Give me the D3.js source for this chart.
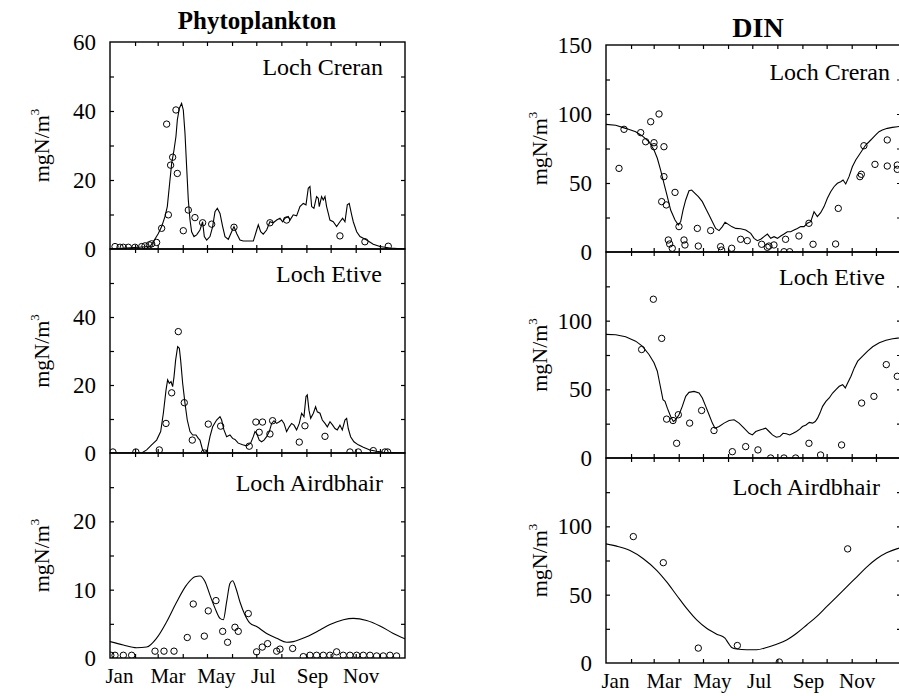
<!DOCTYPE html>
<html><head><meta charset="utf-8">
<script src="https://cdn.jsdelivr.net/npm/d3@7"></script>
<style>
body{margin:0;background:#fff}
svg{display:block}
text{font-family:"Liberation Serif","Times New Roman",serif;fill:#000}
</style>
</head><body>
<svg id="c" width="899" height="696"></svg>
<script>
// ---------- tick labels ----------
const monthLabels = ["Jan","Mar","May","Jul","Sep","Nov"];
const monthLabelDays = [11, 71, 131, 189, 250, 310];
const monthTickDays = [31,59,90,120,151,181,212,243,273,304,334];
const columnTitles = ["Phytoplankton","DIN"];
const lochNames = ["Loch Creran","Loch Etive","Loch Airdbhair"];
const phytoTickLabels = [[0,20,40,60],[0,20,40],[0,10,20]];
const dinTickLabels = [[0,50,100,150],[0,50,100],[0,50,100]];

// ---------- Phytoplankton (mgN/m3): [day of year, value] ----------
const phytoCreranModel = [[0,0],[49.5,0.7],[53.6,2.1],[59.8,4.5],[63.9,6.5],[68,9.4],[70.9,12.3],[74.2,20],[76.3,24.8],[79.2,28.7],[81.6,32.6],[83.3,37.4],[85.8,40.8],[88.6,42.2],[90.7,40.3],[92.8,33.5],[94.8,23.9],[96.9,14.2],[99,8.4],[101,5],[103.9,3.6],[107.2,4.1],[111.3,5.5],[114.6,7.9],[116.7,3.6],[119.6,2.6],[123.7,3.6],[127,6.5],[129.9,10.8],[132.8,11.8],[136.1,10.3],[139.4,6.5],[142.3,3.6],[146.4,2.8],[150.5,5],[153.4,6.5],[156.7,4.5],[160.8,2.6],[164.9,2.3],[177.3,2.3],[181.5,5.5],[183.5,7],[186.4,5],[189.6,4.3],[193.8,5.5],[197.9,7.9],[202,7.6],[206.2,8.4],[210.3,8.9],[213.6,7.9],[216.5,8.9],[220.6,9.4],[222.7,8.4],[226.7,9.9],[230.9,9.6],[235,12.3],[239.1,13.2],[242.5,12.8],[245.3,17.6],[247.4,18.1],[249.5,12.3],[252.3,11.8],[255.6,15.2],[257.7,14.7],[258.9,12.3],[261.8,15.2],[263.9,14.2],[266,15.2],[268,12.3],[270.1,10.3],[272.1,8.4],[276.2,7.9],[280.4,6.5],[284.5,7.9],[287.8,8.9],[290.7,7.9],[293.6,12.8],[296,13.2],[299,9.9],[301,7.9],[305.2,5],[309.3,3.6],[317.5,2.6],[325.7,1.4],[334,0.7],[346.4,0.3],[365,0]];
const phytoCreranObs = [[6.2,0.7],[12.4,0.5],[16.5,0.5],[22.7,0.5],[30.9,0.5],[39.2,0.7],[43.3,0.9],[48.6,1.2],[51.5,1.5],[57.7,1.9],[63.9,6],[72.2,9.9],[75,24.3],[77.5,26.6],[70.1,36.2],[81.6,40.3],[83.3,21.9],[90.7,5.3],[96.9,11.3],[105.1,9.1],[114.6,7.6],[125.8,7.2],[153.4,6.3],[197.9,7.6],[218.5,8.4],[284.5,3.8],[315.4,2.1],[344.3,0.8]];

const phytoEtiveModel = [[0,0],[39.2,0],[45.4,0.9],[51.5,2.4],[57.7,3.8],[62.7,6.3],[66,11.7],[69.3,18.5],[71.3,21.5],[73.4,20.5],[75.5,21],[77.5,19.5],[79.2,22.4],[81.2,27.3],[83.7,31.3],[85.8,30.8],[87.4,27.3],[89.9,20.5],[92.8,14.6],[95.6,9.7],[99,6.3],[102.3,5.3],[106.4,5.3],[109.3,4.3],[111.3,3.8],[114.6,0.9],[117.5,0],[120.4,0.9],[123.7,4.8],[127,7.7],[131.9,9.7],[136.1,10.7],[138.1,9.7],[141,6.8],[144.3,4.8],[148.4,5.3],[151.7,4.3],[154.6,4],[158.7,2.9],[164.1,2.4],[169,2.1],[174,2.9],[177.3,4.8],[179.4,6.3],[181.4,5.8],[184.7,3.8],[187.6,3.3],[190.5,3.8],[193.8,4.8],[197.1,6.3],[200,8.7],[202.9,9.5],[206.2,8.7],[209.5,9.2],[212.4,9.7],[215.3,8.7],[218.5,6.3],[221.8,7.7],[224.7,8.7],[227.6,8.2],[230.9,6.8],[234.2,8.7],[237.1,11.7],[240,10.7],[242.5,16.6],[244.1,17.1],[246.2,12.6],[248.3,10.2],[251.6,11.7],[254.4,13.6],[256.5,12.1],[259.8,11.7],[262.7,9.7],[266,8.7],[268.9,7.7],[272.2,9.2],[275.5,8.2],[278.4,7.2],[281.2,6.8],[284.5,8.2],[287.4,6.8],[290.7,9.7],[292.8,10.2],[294.8,7.2],[297.7,4.8],[301.8,3.3],[307.2,2.4],[313.4,1.7],[321.6,0.9],[329.9,0.5],[338.1,0.2],[365,0]];
const phytoEtiveObs = [[3.6,0.3],[32,0.3],[61,0.9],[69.3,8.7],[76.3,17.7],[84.5,35.7],[91.9,14.8],[101.8,3.8],[116.7,0],[121.6,8.5],[136.9,7.9],[172.3,2],[180.5,9.1],[188.7,9.1],[184.6,6.1],[197.9,5.6],[201.2,9.5],[234.2,3.2],[241.2,8],[266,4.9],[296.9,0.3],[307.2,0.3],[325.8,0.7],[340.2,0.3],[343.5,0.3]];

const phytoAirdModel = [[0,2.4],[16.5,1.9],[33,1.5],[45.4,1.6],[57.7,2.9],[70.1,5.3],[82.5,8.2],[94.8,10.7],[105.1,11.9],[111.3,12],[117.5,11.2],[123.7,9.2],[129.9,7.3],[136.1,5.8],[140.2,5.6],[144.3,8.2],[148.4,10.9],[151.7,11.3],[155.8,10.2],[160.8,8.2],[167,6.3],[173.2,5.1],[181.4,4.6],[193.8,3.6],[206.2,2.9],[218.5,2.3],[226.8,2.4],[243.2,3.1],[259.8,4.1],[272.2,4.9],[288.7,5.6],[301,5.8],[317.5,5.5],[334,4.7],[350.5,3.6],[365,2.8]];
const phytoAirdObs = [[1,0.4],[6.2,0.4],[16.5,0.4],[26.8,0.4],[55.7,1],[66.8,1],[79.2,1],[95.6,3],[103,7.9],[116.7,3.2],[121.6,6.9],[131.1,8.4],[139.4,3.9],[145.5,2.3],[154.6,4.5],[158.7,3.9],[171.1,6.5],[181.4,0.9],[188.4,1.6],[195,2.1],[206.2,1],[210.3,1.3],[226,1.4],[239.2,0.2],[247.4,0.4],[255.6,0.4],[263.9,0.4],[272.1,0.4],[280.4,0.9],[288.6,0.4],[296.9,0.4],[305.2,0.4],[313.4,0.4],[321.7,0.4],[329.9,0.3],[338.1,0.3],[346.4,0.4],[354.6,0.3]];

// ---------- DIN (mgN/m3): [day of year, value] ----------
const dinCreranModel = [[0,92.5],[12,91.8],[24.3,89.6],[36.7,87.2],[44.9,84.1],[53.2,79.9],[59.4,73.9],[63.5,67.9],[67.6,59.4],[71.7,49.8],[75.9,40.1],[80,30.4],[85.4,23.2],[89.5,19.6],[92.4,22],[95.3,30.4],[98.6,37.7],[102.7,44.4],[106,44.9],[110.1,42.5],[114.3,40.1],[119.2,36.5],[123.4,31.6],[127.5,26.8],[131.6,22],[135.7,17.1],[139.9,15.5],[144,18.4],[147.3,21.5],[151.4,20],[155.5,18.4],[160.5,17.1],[166.7,16.9],[172.9,15.9],[179.1,13.5],[183.2,9.9],[187.3,8.2],[191.4,9.2],[195.5,11.1],[199.7,13],[203.8,9.9],[207.9,11.1],[212.1,9.9],[216.2,11.6],[220.3,13],[224.4,14.7],[228.5,14.7],[232.7,15.9],[236.8,17.1],[240.9,18.4],[245,18.4],[249.1,20.8],[253.3,22],[257.4,29.2],[261.5,25.6],[265.6,28.5],[269.8,32.9],[273.9,38.9],[278,43.7],[282.1,47.3],[286.3,49.8],[290.4,50.9],[293.3,52.2],[296.6,49.3],[300.7,54.6],[304.8,61.8],[309,66.7],[313.1,70.3],[317.2,73.9],[321.3,77.5],[325.5,79.9],[329.6,82.4],[333.7,84.8],[337.8,87.2],[341.9,88.4],[348.1,89.6],[354.3,90.3],[360.5,90.8],[365,91]];
const dinCreranObs = [[16.1,60.6],[22.3,88.9],[42.9,86.5],[49.1,79.9],[59.4,79.2],[59.4,76.3],[55.3,94.4],[65.6,100],[71.7,76.3],[71.7,54.6],[85.4,43.2],[68.9,36.5],[74.6,34.1],[90.3,18.4],[77.1,8.7],[78.8,5.8],[82,2.7],[96.5,8.7],[97.7,5.1],[113,17.1],[114.2,4.3],[129.5,15.5],[141.8,3.9],[143.1,1.4],[155.5,2.7],[166.6,9.2],[174.8,8.2],[192.6,5.6],[199.6,3.4],[201.6,4.3],[207.8,5.1],[222.2,9.2],[220.2,0.2],[227.2,0.2],[238.7,11.6],[251.1,20.8],[256.2,5.6],[284.1,5.8],[287.4,31.6],[314.2,54.6],[315.9,56.3],[319.1,77],[332.8,63.5],[348,81.2],[348,62.3],[360.4,63],[360.4,59.9]];

const dinEtiveModel = [[0,90],[12,89.8],[24.3,88.3],[36.7,85.1],[44.9,81.5],[53.2,75.4],[59.4,69.3],[63.5,63.2],[66.4,54.6],[68.9,47.3],[70.5,42.4],[73,41.2],[75.9,36.3],[80,30.2],[83.3,26.6],[86.2,27.8],[90.3,31.5],[94.4,37.6],[98.6,44.9],[102.7,47.8],[108.9,48.5],[115.1,47.3],[119.2,43.7],[123.4,37.6],[127.5,31.5],[131.6,25.4],[134.9,21.7],[139.9,22.9],[146.1,25.4],[152.3,27.3],[158.5,27.8],[164.6,25.4],[170.8,21.7],[177,18],[181.1,16.8],[185.3,19.3],[191.4,20.5],[197.6,21.7],[201.8,19.3],[205.9,16.8],[210.8,15.1],[215,15.6],[219.1,18],[223.2,17.6],[227.3,16.8],[231.5,18],[235.6,19.3],[239.7,21],[243,22.9],[247.4,24.1],[251.5,25.9],[255.6,25.4],[258.9,26.6],[261.8,29],[264.7,32.7],[268,37.6],[272.1,41.2],[276.2,43.7],[280.4,47.3],[284.5,49.8],[288.6,52.2],[292.8,53.4],[296.1,51],[299,54.6],[303.1,59.5],[307.2,65.6],[311.4,70.5],[317.5,74.1],[323.7,77.8],[329.9,81],[338.1,83.9],[346.4,85.8],[354.6,86.8],[360.8,87.3],[365,87.5]];
const dinEtiveObs = [[44.1,79],[58.6,115.6],[68.9,87.1],[75,28.3],[82.9,27.3],[89.5,31.5],[87.4,10.7],[103.5,25.4],[118.3,34.6],[133.6,20],[156.3,4.6],[172.8,8.3],[188,5.9],[203.7,0],[220.2,0],[234.6,0],[251.1,10.7],[265.5,2.2],[291.5,9.5],[316.3,40],[331.5,44.9],[346.8,68],[360.4,59.5]];

const dinAirdModel = [[0,87.2],[13.2,85.5],[29.7,82.3],[46.2,76.3],[62.7,67.8],[75.1,59.3],[87.4,49.6],[99.8,39.9],[112.2,31.5],[124.5,25.4],[136.9,21.1],[147.2,18.2],[151.4,14.5],[155.5,11.4],[161.7,10.2],[174,9.7],[186.4,9.7],[198.8,11.4],[211.1,13.8],[223.5,16.9],[235.9,21.8],[248.3,27.8],[260.6,33.9],[273,41.2],[285.4,48.4],[297.8,55.7],[310.1,62.9],[322.5,70.2],[334.9,76.3],[347.2,80.6],[359.6,83.5],[365,84.5]];
const dinAirdObs = [[33.8,92.5],[70.9,73.4],[114.2,10.9],[162.5,12.8],[214.4,0.7],[299,83.5]];

// ---------- drawing ----------
const svg = d3.select("#c");
const cols = [
  {x0:110, x1:405, yLabelX:49, titleX:257, titleY:29, titleSize:25},
  {x0:606, x1:901, yLabelX:547, titleX:758, titleY:37, titleSize:28}
];
const panels = [
  {col:0, top:42,  bottom:249, max:60,  minor:10, labels:phytoTickLabels[0], name:lochNames[0], model:phytoCreranModel, obs:phytoCreranObs, curve:d3.curveLinear, nameDx:22, nameDy:33},
  {col:0, top:249, bottom:453, max:60,  minor:10, labels:phytoTickLabels[1], name:lochNames[1], model:phytoEtiveModel,  obs:phytoEtiveObs,  curve:d3.curveLinear, nameDx:23, nameDy:33},
  {col:0, top:453, bottom:658, max:30,  minor:5,  labels:phytoTickLabels[2], name:lochNames[2], model:phytoAirdModel,   obs:phytoAirdObs,   curve:d3.curveMonotoneX, nameDx:22, nameDy:38, months:true},
  {col:1, top:45,  bottom:252, max:150, minor:25, labels:dinTickLabels[0],   name:lochNames[0], model:dinCreranModel,  obs:dinCreranObs,   curve:d3.curveLinear, nameDx:11, nameDy:35},
  {col:1, top:252, bottom:458, max:150, minor:25, labels:dinTickLabels[1],   name:lochNames[1], model:dinEtiveModel,   obs:dinEtiveObs,    curve:d3.curveLinear, nameDx:16, nameDy:33},
  {col:1, top:458, bottom:663, max:150, minor:25, labels:dinTickLabels[2],   name:lochNames[2], model:dinAirdModel,    obs:dinAirdObs,     curve:d3.curveMonotoneX, nameDx:21, nameDy:37, months:true}
];

cols.forEach((c,i) => {
  svg.append("text").attr("x", c.titleX).attr("y", c.titleY)
    .attr("text-anchor","middle").attr("font-size", c.titleSize).attr("font-weight","bold")
    .text(columnTitles[i]);
});

panels.forEach((p, i) => {
  const c = cols[p.col];
  const x = d3.scaleLinear().domain([0,365]).range([c.x0, c.x1]);
  const y = d3.scaleLinear().domain([0,p.max]).range([p.bottom, p.top]);
  const g = svg.append("g");

  // clip
  const cid = "clip" + i;
  svg.append("clipPath").attr("id", cid).append("rect")
    .attr("x", c.x0).attr("y", p.top).attr("width", c.x1 - c.x0).attr("height", p.bottom - p.top);

  // frame
  g.append("rect").attr("x", c.x0).attr("y", p.top).attr("width", c.x1 - c.x0).attr("height", p.bottom - p.top)
    .attr("fill","none").attr("stroke","#000").attr("stroke-width",1.4);

  // minor ticks (inward)
  const yMinor = d3.range(p.minor, p.max, p.minor);
  const tickStyle = sel => { sel.select(".domain").remove(); sel.selectAll("line").attr("stroke","#000").attr("stroke-width",1.2); };
  g.append("g").attr("transform",`translate(${c.x0},0)`).call(d3.axisLeft(y).tickValues(yMinor).tickSize(-4).tickFormat("")).call(tickStyle);
  g.append("g").attr("transform",`translate(${c.x1},0)`).call(d3.axisRight(y).tickValues(yMinor).tickSize(-4).tickFormat("")).call(tickStyle);
  g.append("g").attr("transform",`translate(0,${p.bottom})`).call(d3.axisBottom(x).tickValues(monthTickDays).tickSize(-4).tickFormat("")).call(tickStyle);
  g.append("g").attr("transform",`translate(0,${p.top})`).call(d3.axisTop(x).tickValues(monthTickDays).tickSize(-4).tickFormat("")).call(tickStyle);

  // y tick labels
  const ya = g.append("g").attr("transform",`translate(${c.x0},0)`)
    .call(d3.axisLeft(y).tickValues(p.labels).tickSize(0).tickPadding(14).tickFormat(d3.format("d")));
  ya.select(".domain").remove();
  ya.selectAll("text").attr("font-size", 23).attr("font-family","Liberation Serif, serif").attr("fill","#000");

  // y axis label
  const lab = g.append("text")
    .attr("transform", `translate(${c.yLabelX},${(p.top + p.bottom)/2}) rotate(-90)`)
    .attr("text-anchor","middle").attr("font-size", 22);
  lab.append("tspan").text("mgN/m");
  lab.append("tspan").attr("font-size", 13).attr("dy", -10).text("3");

  // loch name
  g.append("text").attr("x", c.x1 - p.nameDx).attr("y", p.top + p.nameDy)
    .attr("text-anchor","end").attr("font-size", 24).text(p.name);

  // month labels
  if (p.months) {
    const xa = g.append("g").attr("transform",`translate(0,${p.bottom})`)
      .call(d3.axisBottom(x).tickValues(monthLabelDays).tickSize(0).tickFormat((d,k) => monthLabels[k]));
    xa.select(".domain").remove();
    xa.selectAll("text").attr("y", 25).attr("dy", 0).attr("font-size", 21)
      .attr("font-family","Liberation Serif, serif").attr("fill","#000");
  }

  // model line
  const line = d3.line().x(d => x(d[0])).y(d => y(d[1])).curve(p.curve);
  g.append("path").datum(p.model).attr("d", line).attr("clip-path", `url(#${cid})`)
    .attr("fill","none").attr("stroke","#000").attr("stroke-width",1.1);

  // observations
  g.append("g").attr("clip-path", `url(#${cid})`).selectAll("circle").data(p.obs).join("circle")
    .attr("cx", d => x(d[0])).attr("cy", d => y(d[1])).attr("r", 3.2)
    .attr("fill","none").attr("stroke","#000").attr("stroke-width",1);
});
</script>
</body></html>
